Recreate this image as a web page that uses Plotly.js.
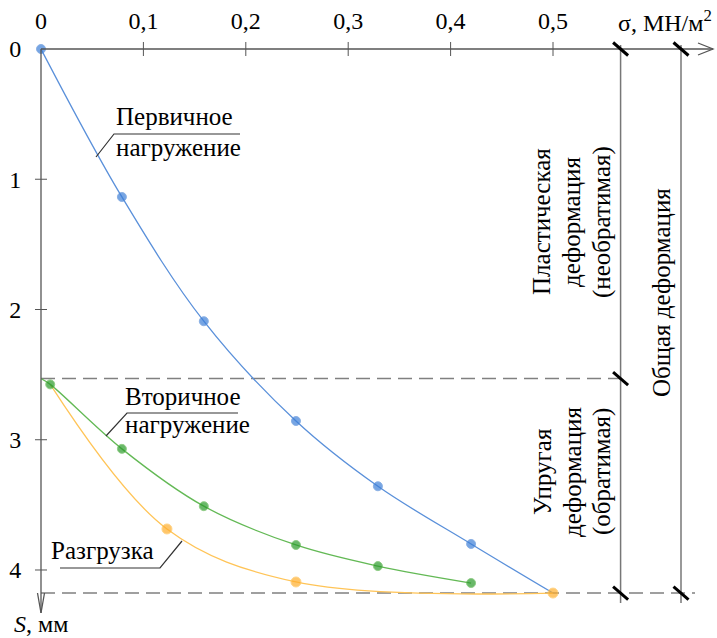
<!DOCTYPE html>
<html>
<head>
<meta charset="utf-8">
<script src="https://cdn.plot.ly/plotly-3.0.1.min.js"></script>
<style>html,body{margin:0;padding:0;background:#fff;}#chart{width:717px;height:638px;}</style>
</head>
<body>
<div id="chart"></div>
<script>
// ---- data (σ, MN/m² ; S, mm) ----
const primarySigma = [0, 0.079, 0.159, 0.249, 0.329, 0.42, 0.5];
const primaryS     = [0, 1.136, 2.09, 2.856, 3.357, 3.80, 4.177];

const secondarySigma = [0, 0.009, 0.079, 0.159, 0.249, 0.329, 0.42];
const secondaryS     = [2.53, 2.575, 3.07, 3.51, 3.808, 3.97, 4.10];

const unloadSigma = [0.009, 0.123, 0.249, 0.5];
const unloadS     = [2.575, 3.685, 4.092, 4.177];

const xTickVals   = [0, 0.1, 0.2, 0.3, 0.4, 0.5];
const xTickLabels = ["0", "0,1", "0,2", "0,3", "0,4", "0,5"];
const yTickVals   = [0, 1, 2, 3, 4];
const yTickLabels = ["0", "1", "2", "3", "4"];

const elasticTopS = 2.53;   // start of secondary loading
const finalS      = 4.177;  // total settlement
const line1Sigma  = 0.566;  // right bracket lines
const line2Sigma  = 0.625;

// ---- layout geometry ----
const W = 717, H = 638, ML = 41, MR = 0, MT = 49, MB = 23;
const PW = W - ML - MR, PH = H - MT - MB;
const XPX = 1024, YPX = 130.25;
const px = v => (v - ML) / PW;          // pixel -> paper
const py = v => 1 - (v - MT) / PH;
const dx = v => ML + v * XPX;            // data -> pixel
const dy = v => MT + v * YPX;

const FONT = "Liberation Serif";
const blueM = "#3d7fd8", blueL = "#5a90da";
const greenM = "#2b9b2b", greenL = "#63b955";
const orM = "#ffae2c", orL = "#ffc457";

const traces = [
  {x: primarySigma, y: primaryS, mode: "lines+markers", line: {color: blueL, width: 1.3, shape: "spline"},
   marker: {color: blueM, size: primarySigma.map((v, i) => i === primarySigma.length - 1 ? 0 : 9)}, cliponaxis: false, hoverinfo: "skip"},
  {x: unloadSigma, y: unloadS, mode: "lines+markers", line: {color: orL, width: 1.3, shape: "spline"},
   marker: {color: orM, size: unloadSigma.map((v, i) => i === 0 ? 0 : 10)}, cliponaxis: false, hoverinfo: "skip"},
  {x: secondarySigma, y: secondaryS, mode: "lines+markers", line: {color: greenL, width: 1.3, shape: "spline"},
   marker: {color: greenM, size: secondarySigma.map((v, i) => i === 0 ? 0 : 9)}, cliponaxis: false, hoverinfo: "skip"}
];

const shapes = [];
const axisCol = "#555";
const pathPx = (pts, line, layer) => shapes.push({type: "path", xref: "paper", yref: "paper", layer: layer || "above",
  path: pts.map((p, i) => (i ? "L" : "M") + px(p[0]).toFixed(5) + "," + py(p[1]).toFixed(5)).join(" "), line: line});

// axis lines with arrows
const xTip = 713, yTip = 613;
pathPx([[dx(0), dy(0)], [xTip, dy(0)]], {color: axisCol, width: 1.3});
pathPx([[xTip - 15, dy(0) - 6], [xTip, dy(0)], [xTip - 15, dy(0) + 6]], {color: axisCol, width: 1.3});
pathPx([[dx(0), dy(0)], [dx(0), yTip]], {color: axisCol, width: 1.3});
pathPx([[dx(0) - 3.5, yTip - 20], [dx(0), yTip], [dx(0) + 3.5, yTip - 20]], {color: axisCol, width: 1.3});
// ticks crossing the axes
xTickVals.forEach(v => { if (v > 0) pathPx([[dx(v), dy(0) - 7], [dx(v), dy(0) + 7]], {color: axisCol, width: 1}); });
yTickVals.forEach(v => { if (v > 0) pathPx([[dx(0) - 6, dy(v)], [dx(0) + 6, dy(v)]], {color: axisCol, width: 1}); });
// dashed horizontal lines
pathPx([[dx(0), dy(elasticTopS)], [dx(line1Sigma), dy(elasticTopS)]], {color: "#808080", width: 1.5, dash: "14px,7px"}, "below");
pathPx([[dx(0), dy(finalS)], [695, dy(finalS)]], {color: "#808080", width: 1.5, dash: "14px,7px"}, "below");
// right vertical lines
[line1Sigma, line2Sigma].forEach(v => pathPx([[dx(v), 45], [dx(v), 603]], {color: "#777", width: 1.5}));
// slashes
[[line1Sigma, 0], [line2Sigma, 0], [line1Sigma, elasticTopS], [line1Sigma, finalS], [line2Sigma, finalS]].forEach(p =>
  pathPx([[dx(p[0]) - 7.5, dy(p[1]) - 6.5], [dx(p[0]) + 7.5, dy(p[1]) + 6.5]], {color: "#000", width: 3}));
// leader lines
pathPx([[96, 157], [114, 134], [240, 134]], {color: "#333", width: 1.2});
pathPx([[106, 436], [127, 413], [238, 413]], {color: "#333", width: 1.2});
pathPx([[182, 541], [160, 568], [60, 568]], {color: "#333", width: 1.2});

const tf = {family: FONT, size: 25, color: "#000"};
const ann = (x, y, text, opts) => Object.assign({xref: "paper", yref: "paper", x: px(x), y: py(y), text: text,
  showarrow: false, font: tf, xanchor: "left", yanchor: "middle"}, opts || {});
const annotations = [
  ann(114, 117, "Первичное"),
  ann(114, 147, "нагружение"),
  ann(123, 396, "Вторичное"),
  ann(123, 425, "нагружение"),
  ann(49, 550, "Разгрузка"),
  ann(542, 222, "Пластическая", {textangle: -90, xanchor: "center"}),
  ann(572, 222, "деформация", {textangle: -90, xanchor: "center"}),
  ann(602, 222, "(необратимая)", {textangle: -90, xanchor: "center"}),
  ann(542, 472, "Упругая", {textangle: -90, xanchor: "center"}),
  ann(572, 472, "деформация", {textangle: -90, xanchor: "center"}),
  ann(602, 472, "(обратимая)", {textangle: -90, xanchor: "center"}),
  ann(661, 293, "Общая деформация", {textangle: -90, xanchor: "center"}),
  ann(714, 21, "σ, МН/м<sup>2</sup>", {xanchor: "right", font: {family: FONT, size: 24, color: "#000"}}),
  ann(12, 624, "<i>S</i>, мм", {font: {family: FONT, size: 24, color: "#000"}})
];

const layout = {
  width: W, height: H,
  margin: {l: ML, r: MR, t: MT, b: MB, pad: 0},
  paper_bgcolor: "#fff", plot_bgcolor: "#fff",
  showlegend: false,
  font: {family: FONT, size: 24, color: "#000"},
  xaxis: {side: "top", range: [0, PW / XPX], showgrid: false, zeroline: false, showline: false,
    tickmode: "array", tickvals: xTickVals, ticktext: xTickLabels, ticks: "outside", ticklen: 7, tickcolor: "rgba(0,0,0,0)",
    ticklabelstandoff: 2, tickfont: {family: FONT, size: 24, color: "#000"}, fixedrange: true},
  yaxis: {range: [PH / YPX, 0], showgrid: false, zeroline: false, showline: false,
    tickmode: "array", tickvals: yTickVals, ticktext: yTickLabels, ticks: "outside", ticklen: 6, tickcolor: "rgba(0,0,0,0)",
    ticklabelstandoff: 8, tickfont: {family: FONT, size: 24, color: "#000"}, fixedrange: true},
  shapes: shapes,
  annotations: annotations
};

Plotly.newPlot("chart", traces, layout, {displayModeBar: false, staticPlot: true});
</script>
</body>
</html>
